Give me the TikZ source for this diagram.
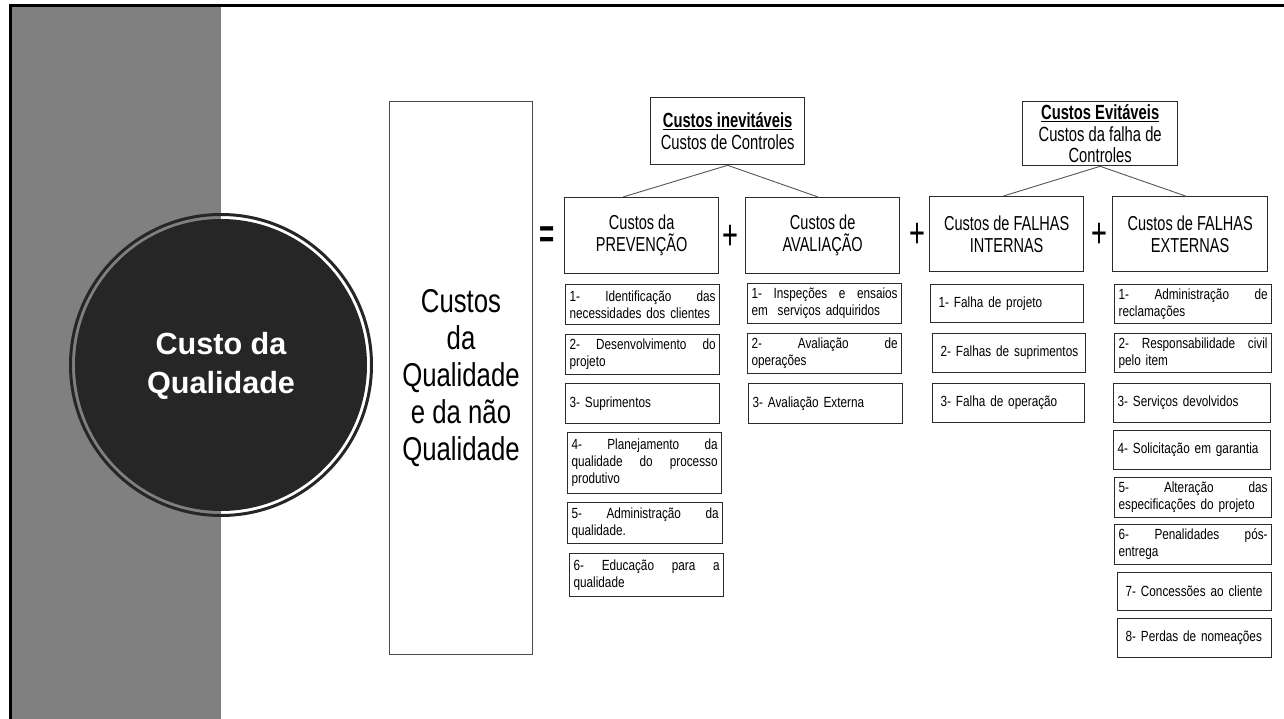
\documentclass[tikz,border=0pt]{standalone}
\usepackage{fontspec}
\setmainfont{Liberation Sans}
\newfontfamily\hdrf[FakeStretch=0.72]{Liberation Sans}
\newfontfamily\itmf[FakeStretch=0.8]{Liberation Sans}
\newfontfamily\bigf[FakeStretch=0.78]{Liberation Sans}
\newfontfamily\signf[FakeStretch=0.65]{Liberation Sans}
\usetikzlibrary{calc}
\definecolor{band}{HTML}{808080}
\definecolor{disc}{HTML}{262626}
\definecolor{edgec}{HTML}{2A2A2A}
\definecolor{connc}{HTML}{555555}
\hyphenpenalty=10000
\begin{document}
\begin{tikzpicture}[x=1pt,y=-1pt,
  hbox/.style={draw=edgec,line width=1.3pt,anchor=north west,inner sep=0pt,align=center,font=\hdrf\fontsize{20.2}{22}\selectfont},
  topbox/.style={hbox,font=\hdrf\fontsize{20.5}{21.5}\selectfont},
  ibox/.style={draw=edgec,line width=1.2pt,anchor=north west,inner ysep=0pt,inner xsep=4pt,align=left,font=\itmf\fontsize{14.7}{17}\selectfont},
  ib/.style n args={3}{ibox,minimum width=#1pt,text width=#2pt,minimum height=#3pt},
  ibw/.style n args={3}{ibox,inner xsep=8pt,minimum width=#1pt,text width=#2pt,minimum height=#3pt},
  sign/.style={font=\signf\fontsize{42}{42}\selectfont,inner sep=0pt},
  conn/.style={draw=connc,line width=0.9pt}]
\useasboundingbox (0,0) rectangle (1284,719);
% slide background and frame
\fill[band] (12,7) rectangle (221,719);
\draw[black,line width=3pt] (10.5,719) -- (10.5,5.5) -- (1284,5.5);
% title circle
\draw[disc,line width=3pt] (221,365) circle[radius=150.5pt];
\fill[disc] (221,365) circle[radius=146pt];
\node[font=\bfseries\fontsize{30.6}{39}\selectfont,text=white,align=center] (title) at (221,366) {Custo da\\Qualidade};
% big box
\node[draw=black!70,line width=1pt,anchor=north west,minimum width=143pt,minimum height=553pt,align=center,inner sep=0pt,font=\bigf\fontsize{33}{37}\selectfont] (big) at (389,101) {Custos\\da\\Qualidade\\e da não\\Qualidade};
% top boxes
\node[topbox,minimum width=154pt,minimum height=67pt] (inev) at (650,97) {\textbf{\underline{Custos inevitáveis}}\\Custos de Controles};
\node[topbox,minimum width=155pt,minimum height=64pt] (evit) at (1022,101) {\textbf{\underline{Custos Evitáveis}}\\Custos da falha de\\Controles};
% headers
\node[hbox,minimum width=154pt,minimum height=76pt] (prev) at (564,197) {Custos da\\PREVENÇÃO};
\node[hbox,minimum width=154pt,minimum height=76pt] (aval) at (745,197) {Custos de\\AVALIAÇÃO};
\node[hbox,minimum width=154pt,minimum height=75pt] (int) at (929,196) {Custos de FALHAS\\INTERNAS};
\node[hbox,minimum width=155pt,minimum height=75pt] (ext) at (1112,196) {Custos de FALHAS\\EXTERNAS};
% signs
\node[sign,font=\signf\bfseries\fontsize{40}{40}\selectfont] (eq) at (547,237) {=};
\node[sign] (pl1) at (730,237) {+};
\node[sign] (pl2) at (917,235) {+};
\node[sign] (pl3) at (1099,235) {+};
% connectors
\draw[conn] (inev.south) -- ($(prev.north west)!0.38!(prev.north east)$);
\draw[conn] (inev.south) -- ($(aval.north west)!0.47!(aval.north east)$);
\draw[conn] (evit.south) -- ($(int.north west)!0.48!(int.north east)$);
\draw[conn] (evit.south) -- ($(ext.north west)!0.47!(ext.north east)$);
% prevention items
\node[ib={154}{146}{40}] (p1) at (565,284) {1-\hfill Identificação\hfill das\\necessidades dos clientes};
\node[ib={154}{146}{40}] (p2) at (565,334) {2-\hfill Desenvolvimento\hfill do\\projeto};
\node[ib={154}{146}{40}] (p3) at (565,383) {\mbox{3- Suprimentos}};
\node[ib={154}{146}{61}] (p4) at (567,432) {4-\hfill Planejamento\hfill da\\qualidade\hfill do\hfill processo\\produtivo};
\node[ib={155}{147}{41}] (p5) at (567,502) {5-\hfill Administração\hfill da\\qualidade.};
\node[ib={154}{146}{43}] (p6) at (569,553) {6-\hfill Educação\hfill para\hfill a\\qualidade};
% evaluation items
\node[ib={154}{146}{40}] (a1) at (747,283) {1-\hfill Inspeções\hfill e\hfill ensaios\\em\ \ serviços adquiridos};
\node[ib={154}{146}{40}] (a2) at (747,333) {2-\hfill Avaliação\hfill de\\operações};
\node[ib={154}{146}{40}] (a3) at (748,383) {\mbox{3- Avaliação Externa}};
% internal failure items
\node[ibw={153}{137}{38}] (i1) at (930,284) {\mbox{1- Falha de projeto}};
\node[ibw={153}{137}{39}] (i2) at (932,333) {\mbox{2- Falhas de suprimentos}};
\node[ibw={152}{136}{39}] (i3) at (932,383) {\mbox{3- Falha de operação}};
% external failure items
\node[ib={157}{149}{39}] (e1) at (1114,284) {1-\hfill Administração\hfill de\\reclamações};
\node[ib={157}{149}{39}] (e2) at (1114,333) {2-\hfill Responsabilidade\hfill civil\\pelo item};
\node[ib={157}{149}{39}] (e3) at (1113,383) {\mbox{3- Serviços devolvidos}};
\node[ib={157}{149}{39}] (e4) at (1113,430) {\mbox{4- Solicitação em garantia}};
\node[ib={157}{149}{40}] (e5) at (1114,477) {5-\hfill Alteração\hfill das\\especificações do projeto};
\node[ib={157}{149}{40}] (e6) at (1114,524) {6-\hfill Penalidades\hfill pós-\\entrega};
\node[ibw={154}{138}{38}] (e7) at (1117,572) {\mbox{7- Concessões ao cliente}};
\node[ibw={154}{138}{39}] (e8) at (1117,618) {\mbox{8- Perdas de nomeações}};
\end{tikzpicture}
\end{document}
